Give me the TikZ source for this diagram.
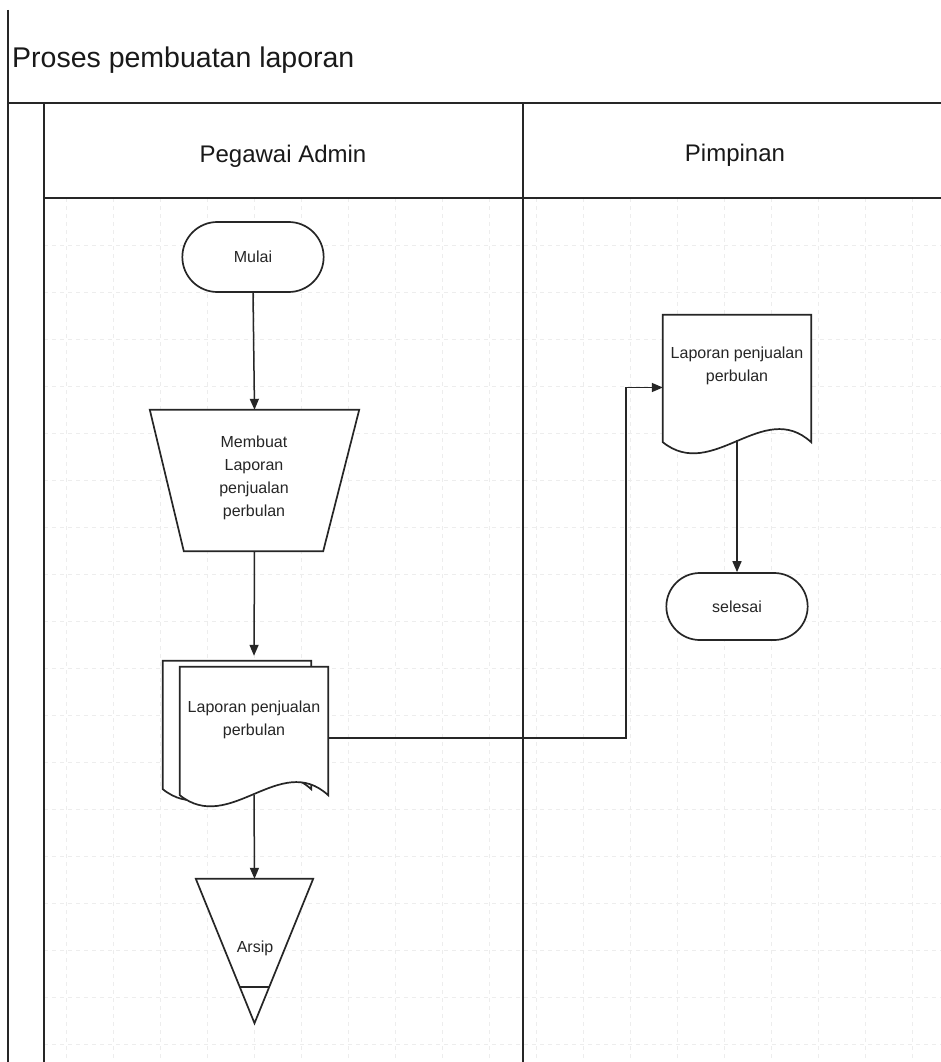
\documentclass[tikz,border=0pt]{standalone}
\usepackage{fontspec}
\setmainfont{Liberation Sans}
\usetikzlibrary{arrows.meta,shapes.misc,calc}

\tikzset{
  lane/.style={line width=1.4pt, draw=black!85},
  laneheavy/.style={line width=2.4pt, draw=black!85},
  gridline/.style={draw=black!7, line width=0.6pt, dash pattern=on 4pt off 4pt},
  outline/.style={line width=1.7pt, draw=black!85, fill=white},
  lbl/.style={font=\fontsize{16}{23}\selectfont, text=black!85, align=center, inner sep=0pt},
  terminal/.style={rounded rectangle, outline, minimum width=148pt, minimum height=70pt,
                   font=\fontsize{16}{23}\selectfont, text=black!85},
  box/.style={minimum width=#1, inner sep=0pt},
  conn/.style={line width=1.5pt, draw=black!85, -{Triangle[length=11pt,width=9pt]}},
}

% document outline with a wavy lower edge, drawn over a bounding node
\newcommand\docoutline[2][]{%
  \path[outline,#1] (#2.north west) -- (#2.north east) -- (#2.south east)
    .. controls ($(#2.south east)+(-48,-44)$) and ($(#2.south west)+(50,40)$) .. (#2.south west) -- cycle;}

\begin{document}
\begin{tikzpicture}[x=1pt,y=-1pt]
  \useasboundingbox (0,0) rectangle (941,1062);
  \fill[white] (0,0) rectangle (941,1062);

  % faint page grid inside the pool
  \foreach \gy in {245,292,...,1062} \draw[gridline] (44,\gy) -- (941,\gy);
  \foreach \gx in {66,113,...,941} \draw[gridline] (\gx,198) -- (\gx,1062);

  % pool and swimlanes
  \draw[lane] (8,10) -- (8,1062);
  \draw[laneheavy] (8,103) -- (941,103);
  \draw[lane] (44,103) -- (44,1062);
  \draw[lane] (523,103) -- (523,1062);
  \draw[laneheavy] (44,198) -- (941,198);

  \node[anchor=base west, inner sep=0pt, font=\fontsize{28.5}{32}\selectfont, text=black!90]
    (title) at (12,68) {Proses pembuatan laporan};
  \node[anchor=base, inner sep=0pt, font=\fontsize{24}{28}\selectfont, text=black!90]
    (lane1) at (283,162) {Pegawai Admin};
  \node[anchor=base, inner sep=0pt, font=\fontsize{24}{28}\selectfont, text=black!90]
    (lane2) at (735,161) {Pimpinan};

  % Pegawai Admin lane
  \node[terminal] (mulai) at (253,257) {Mulai};

  \node[box=209pt, minimum height=141pt] (membuat) at (254.5,480.5) {};
  \path[outline] (membuat.north west) -- (membuat.north east)
    -- ($(membuat.south east)+(-36,0)$) -- ($(membuat.south west)+(34,0)$) -- cycle;
  \node[lbl] (membuattext) at (254,478) {Membuat\\Laporan\\penjualan\\perbulan};

  \node[box=148pt, minimum height=128pt] (docback) at (237,725) {};
  \node[box=148pt, minimum height=128pt] (doc1) at (254,731) {};
  \docoutline{docback}
  \docoutline{doc1}
  \node[lbl] (doc1text) at (254,720) {Laporan penjualan\\perbulan};

  \node[box=117pt, minimum height=144pt] (arsip) at (254.5,951) {};
  \path[outline] (arsip.north west) -- (arsip.north east) -- (arsip.south) -- cycle;
  \draw[line width=1.7pt, draw=black!85]
    ($(arsip.south)!0.25!(arsip.north west)$) coordinate (arsipl)
    -- ($(arsip.south)!0.25!(arsip.north east)$) coordinate (arsipr);
  \node[lbl] (arsiptext) at (255,948) {Arsip};

  % Pimpinan lane
  \node[box=148pt, minimum height=127pt] (doc2) at (737,378.5) {};
  \docoutline{doc2}
  \node[lbl] (doc2text) at (737,366) {Laporan penjualan\\perbulan};

  \node[terminal, minimum height=67pt] (selesai) at (737,606.5) {selesai};

  % flow
  \draw[conn] (mulai.south) -- (membuat.north);
  \draw[conn] (membuat.south) -- ([yshift=5pt]docback.north -| doc1.north);
  \draw[conn] (doc1.south) -- (arsip.north);
  \draw[conn] ([yshift=-7pt]doc1.east) -| ([xshift=-37pt,yshift=-9pt]doc2.west)
    -- ([yshift=-9pt]doc2.west);
  \draw[conn] ([yshift=2pt]doc2.south) -- (selesai.north);
\end{tikzpicture}
\end{document}
